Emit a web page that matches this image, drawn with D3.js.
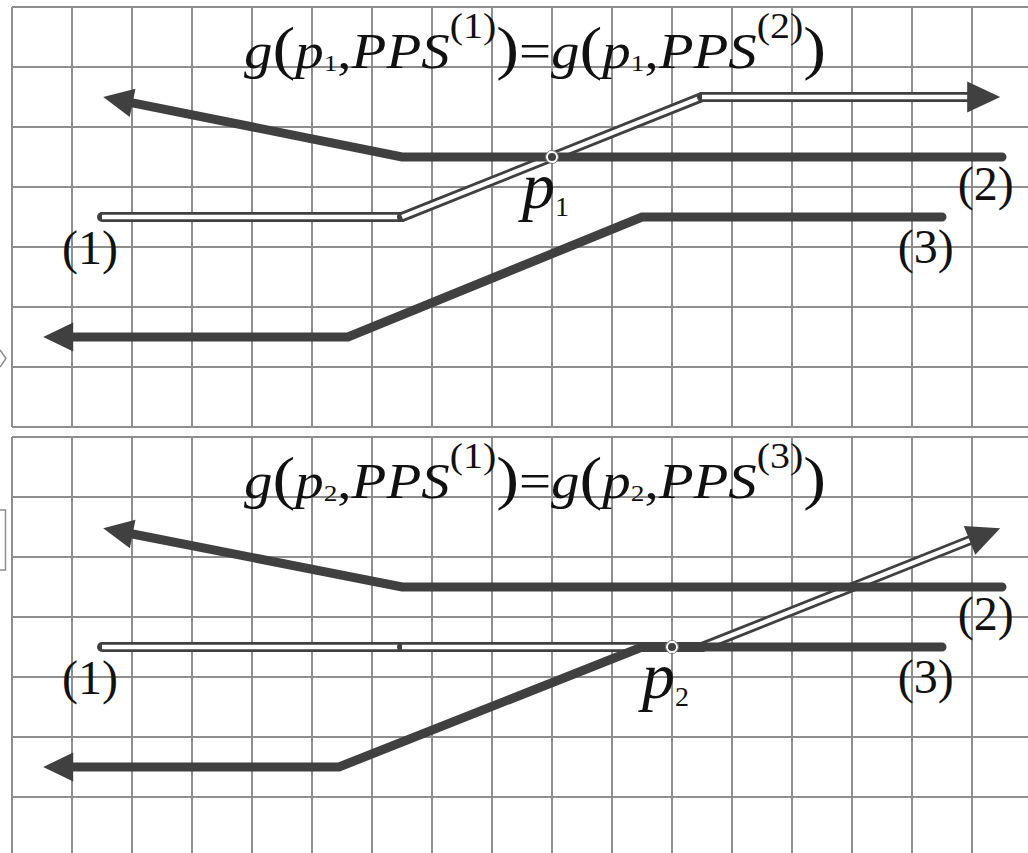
<!DOCTYPE html>
<html>
<head>
<meta charset="utf-8">
<script src="https://cdn.jsdelivr.net/npm/d3@7"></script>
<style>
  html, body { margin: 0; padding: 0; background: #fff; overflow: hidden; }
  svg text { font-family: "Liberation Serif", "Times New Roman", serif; fill: #111; }
</style>
</head>
<body>
<svg id="fig" width="1028" height="853"></svg>
<script>
// ---- data (grid units: column, row) ----
const gridCols = d3.range(0, 18);
const gridRows = d3.range(0, 8);
const seriesLabels = ["(1)", "(2)", "(3)"];
const crossPoints = [[9, 2.5], [11, 3.5]];
const crossSubs = ["1", "2"];
const comparedPairs = [["1", "2"], ["1", "3"]];
// route (1): hollow double line, one per panel
const routes1 = [
  [[1.5, 3.5], [6.5, 3.5], [11.5, 1.5], [16.47, 1.5]],
  [[1.5, 3.5], [6.5, 3.5], [11.5, 3.5], [16.47, 1.52]]
];
// route (2): thick line with arrow to the upper left
const routes2 = [
  [[16.5, 2.5], [6.5, 2.5], [1.52, 1.5]],
  [[16.5, 2.5], [6.5, 2.5], [1.52, 1.52]]
];
// route (3): thick line with arrow to the lower left
const routes3 = [
  [[15.5, 3.5], [10.5, 3.5], [5.6, 5.5], [0.52, 5.5]],
  [[15.5, 3.5], [10.5, 3.5], [5.45, 5.5], [0.52, 5.5]]
];

// ---- layout ----
const svg = d3.select("#fig");
const dark = "#404040";
const gridColor = "#8e8e8e";
const panelTops = [7, 437];
const x = d3.scaleLinear().domain([0, 17]).range([12, 1032]);
const serif = '"Liberation Serif", "Times New Roman", serif';

// decorative edge marks on the left border
svg.append("path").attr("d", "M0,350 L6,358.5 L0,367")
  .attr("fill", "none").attr("stroke", gridColor).attr("stroke-width", 1.5);
svg.append("path").attr("d", "M0,510 L5.5,510 L5.5,570 L0,570")
  .attr("fill", "none").attr("stroke", gridColor).attr("stroke-width", 1.5);

function arrowSplit(pts, len, half) {
  // returns line points ending at the arrow base, plus the arrowhead triangle
  const n = pts.length;
  const tip = pts[n - 1], prev = pts[n - 2];
  const dx = tip[0] - prev[0], dy = tip[1] - prev[1];
  const d = Math.hypot(dx, dy);
  const ux = dx / d, uy = dy / d;
  const base = [tip[0] - ux * len, tip[1] - uy * len];
  const tri = [tip, [base[0] - uy * half, base[1] + ux * half], [base[0] + uy * half, base[1] - ux * half]];
  const linePts = pts.slice(0, n - 1).concat([[tip[0] - ux * (len - 4), tip[1] - uy * (len - 4)]]);
  return { linePts, tri };
}

panelTops.forEach((top, i) => {
  const y = d3.scaleLinear().domain([0, 7]).range([top, top + 420]);
  const g = svg.append("g");
  const toPx = p => [x(p[0]), y(p[1])];
  const line = d3.line();

  // grid
  g.selectAll(".v").data(gridCols).join("line")
    .attr("x1", d => x(d)).attr("x2", d => x(d))
    .attr("y1", y(0)).attr("y2", y(7))
    .attr("stroke", gridColor).attr("stroke-width", 2);
  g.selectAll(".h").data(gridRows).join("line")
    .attr("x1", x(0)).attr("x2", x(17))
    .attr("y1", d => y(d)).attr("y2", d => y(d))
    .attr("stroke", gridColor).attr("stroke-width", 2);

  // route (1): hollow double line drawn segment by segment
  const r1 = arrowSplit(routes1[i].map(toPx), 33, 15.5);
  const segs = d3.pairs(r1.linePts);
  segs.forEach(s => {
    g.append("path").attr("d", line(s)).attr("fill", "none")
      .attr("stroke", dark).attr("stroke-width", 10).attr("stroke-linecap", "round");
    g.append("path").attr("d", line(s)).attr("fill", "none")
      .attr("stroke", "#fff").attr("stroke-width", 4.5).attr("stroke-linecap", "butt");
  });
  g.append("path").attr("d", line(r1.tri) + "Z").attr("fill", dark);

  // thick routes (2) and (3)
  [routes2[i], routes3[i]].forEach(r => {
    const a = arrowSplit(r.map(toPx), 30, 14.5);
    g.append("path").attr("d", line(a.linePts)).attr("fill", "none")
      .attr("stroke", dark).attr("stroke-width", 9)
      .attr("stroke-linecap", "round").attr("stroke-linejoin", "miter");
    g.append("path").attr("d", line(a.tri) + "Z").attr("fill", dark);
  });

  // crossing point marker
  const cp = toPx(crossPoints[i]);
  g.append("circle").attr("cx", cp[0]).attr("cy", cp[1]).attr("r", 6.5)
    .attr("fill", "none").attr("stroke", "#777").attr("stroke-width", 1);
  g.append("circle").attr("cx", cp[0]).attr("cy", cp[1]).attr("r", 5)
    .attr("fill", dark).attr("stroke", "#fff").attr("stroke-width", 2);

  // point label p with subscript
  const pl = g.append("text").attr("x", cp[0] - 30).attr("y", cp[1] + 51)
    .style("font-family", serif);
  pl.append("tspan").text("p").style("font-style", "italic").style("font-size", "66px");
  pl.append("tspan").text(crossSubs[i]).style("font-size", "28px").attr("dy", 8);

  // series labels
  const labelAt = [[1.3, 4.28], [16.23, 3.22], [15.23, 4.27]];
  seriesLabels.forEach((t, k) => {
    g.append("text").attr("x", x(labelAt[k][0])).attr("y", y(labelAt[k][1]))
      .attr("text-anchor", "middle").style("font-size", "48px").text(t);
  });

  // equation title, stretched to its printed width
  const base = y(0) + 61;
  const tt = g.append("text").attr("x", 244).attr("y", base)
    .attr("textLength", 582).attr("lengthAdjust", "spacingAndGlyphs");
  const parts = [];
  const pushPair = (s) => {
    parts.push({ t: "g", it: true, fs: 50, dy: 0 });
    parts.push({ t: "(", fs: 60, dy: 0 });
    parts.push({ t: "p", it: true, fs: 50, dy: 0 });
    parts.push({ t: crossSubs[i], fs: 24, dy: 3 });
    parts.push({ t: ",", fs: 50, dy: -3 });
    parts.push({ t: "PPS", it: true, fs: 50, dy: 0 });
    parts.push({ t: "(" + s + ")", fs: 35, dy: -30 });
    parts.push({ t: ")", fs: 60, dy: 30 });
  };
  pushPair(comparedPairs[i][0]);
  parts.push({ t: "=", fs: 50, dy: 0 });
  pushPair(comparedPairs[i][1]);
  parts.forEach(p => {
    tt.append("tspan").text(p.t)
      .style("font-size", p.fs + "px")
      .style("font-style", p.it ? "italic" : "normal")
      .attr("dy", p.dy);
  });
});
</script>
</body>
</html>
